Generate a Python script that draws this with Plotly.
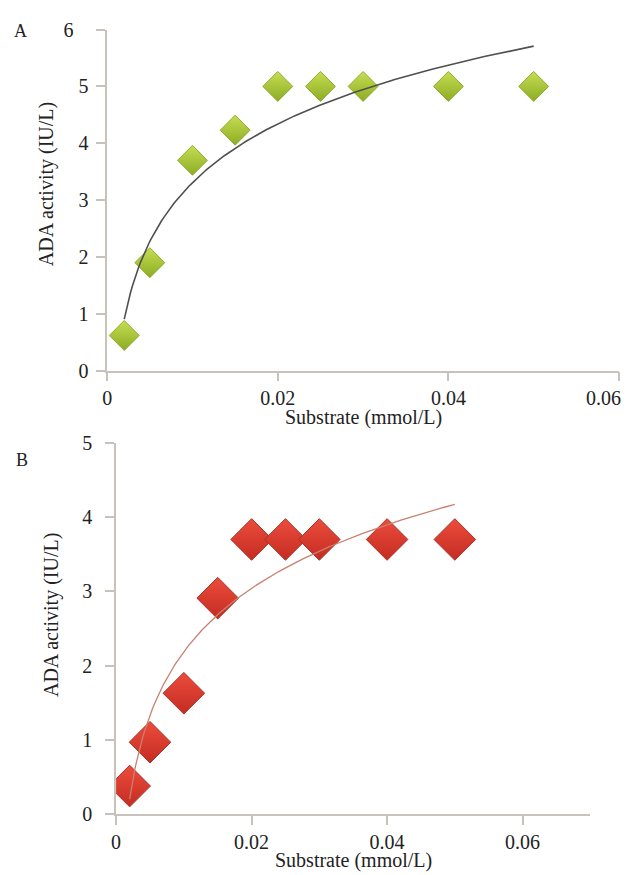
import numpy as np
import plotly.graph_objects as go

W, H = 629, 875

# ---- data ----
substrate = [0.002, 0.005, 0.010, 0.015, 0.020, 0.025, 0.030, 0.040, 0.050]
activity_a = [0.62, 1.90, 3.70, 4.23, 5.00, 5.00, 5.00, 5.00, 5.00]
activity_b = [0.38, 0.97, 1.63, 2.91, 3.70, 3.70, 3.70, 3.70, 3.70]
yticks_a = [0, 1, 2, 3, 4, 5, 6]
yticks_b = [0, 1, 2, 3, 4, 5]
xticks_a = [0, 0.02, 0.04, 0.06]
xticks_b = [0, 0.02, 0.04, 0.06]
xtick_text_a = ["0", "0.02", "0.04", ""]  # last label drawn inside the page below
xtick_last_a = "0.06"
xtick_text_b = ["0", "0.02", "0.04", "0.06"]
ytick_text_a = ["0", "1", "2", "3", "4", "5", "6\u00a0\u00a0\u00a0"]
ytick_text_b = ["0", "1", "2", "3", "4", "5"]


def log_trend(x, y):
    a, b = np.polyfit(np.log(x), y, 1)
    xs = np.linspace(min(x), max(x), 200)
    return xs, a * np.log(xs) + b


def px(v):
    return v / W


def py(v):
    return 1 - v / H


FONT = "Liberation Serif, Times New Roman, serif"
AX = "#c9c2ba"

fig = go.Figure()

# Panel A
fig.add_trace(go.Scatter(
    x=substrate, y=activity_a, mode="markers", xaxis="x", yaxis="y",
    marker=dict(symbol="diamond", size=23, color="#c6de52",
                gradient=dict(type="vertical", color="#8cac24"),
                line=dict(color="#8fab2a", width=1)),
    showlegend=False, hoverinfo="x+y"))
xa, ya = log_trend(substrate, activity_a)
fig.add_trace(go.Scatter(x=xa, y=ya, mode="lines", xaxis="x", yaxis="y",
                         line=dict(color="#505050", width=1.6),
                         showlegend=False, hoverinfo="skip"))

# Panel B
fig.add_trace(go.Scatter(
    x=substrate, y=activity_b, mode="markers", xaxis="x2", yaxis="y2",
    marker=dict(symbol="diamond", size=32, color="#ec4c3c",
                gradient=dict(type="vertical", color="#c42c22"),
                line=dict(color="#a83228", width=1)),
    showlegend=False, hoverinfo="x+y"))
xb, yb = log_trend(substrate, activity_b)
fig.add_trace(go.Scatter(x=xb, y=yb, mode="lines", xaxis="x2", yaxis="y2",
                         line=dict(color="#c98070", width=1.3),
                         showlegend=False, hoverinfo="skip"))

axis_common = dict(showline=True, linecolor=AX, linewidth=1.5, ticks="outside",
                   tickcolor=AX, tickwidth=1.5, ticklen=9, showgrid=False,
                   zeroline=False,
                   tickfont=dict(family=FONT, size=20, color="#222"))

fig.update_layout(
    width=W, height=H, margin=dict(l=0, r=0, t=0, b=0),
    paper_bgcolor="white", plot_bgcolor="white",
    xaxis=dict(domain=[px(103), px(619)], range=[0, 0.06001], anchor="y",
               tickvals=xticks_a, ticktext=xtick_text_a, **axis_common),
    yaxis=dict(domain=[py(369), py(19)], range=[0, 6.001], anchor="x",
               tickvals=yticks_a, ticktext=ytick_text_a, ticklabelstandoff=4,
               **axis_common),
    xaxis2=dict(domain=[px(112), px(590)], range=[0, 0.07], anchor="y2",
                tickvals=xticks_b, ticktext=xtick_text_b, **axis_common),
    yaxis2=dict(domain=[py(824), py(443)], range=[0, 5.001], anchor="x2",
                tickvals=yticks_b, ticktext=ytick_text_b, ticklabelstandoff=9,
                **axis_common),
)

ann_font = dict(family=FONT, size=20, color="#222")
annotations = [
    dict(text="A", x=px(15.5), y=py(21), font=dict(family=FONT, size=18, color="#222")),
    dict(text="B", x=px(17.5), y=py(461), font=dict(family=FONT, size=18, color="#222")),
    dict(text="ADA activity (IU/L)", x=px(42), y=py(178), textangle=-90, font=ann_font),
    dict(text="ADA activity (IU/L)", x=px(47), y=py(620), textangle=-90, font=ann_font),
    dict(text="Substrate (mmol/L)", x=px(361), y=py(417), font=ann_font),
    dict(text="Substrate (mmol/L)", x=px(351), y=py(871), font=ann_font),
    dict(text=xtick_last_a, x=px(623), y=py(397), xanchor="right", font=ann_font),
]
for a in annotations:
    a.setdefault("xanchor", "center")
    a.update(xref="paper", yref="paper", showarrow=False, yanchor="middle")
fig.update_layout(annotations=annotations)

fig.write_html("out.html", config={"displayModeBar": False},
               post_script="document.body.style.margin='0';")
